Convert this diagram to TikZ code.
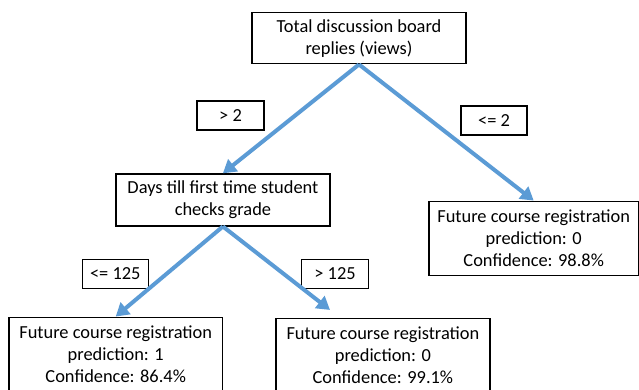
\documentclass[tikz,border=0pt]{standalone}
\usepackage{fontspec}
\setmainfont{Carlito}
\usetikzlibrary{arrows.meta,calc}
\definecolor{arrblue}{RGB}{91,155,213}
\tikzset{
  box/.style={draw=black, line width=1.5pt, inner sep=0pt, align=center,
    font=\fontsize{18.4}{22}\selectfont},
  lbl/.style={draw=black, line width=1.5pt, inner sep=0pt, align=center,
    minimum width=66pt, minimum height=29pt, font=\fontsize{18.4}{22}\selectfont},
  arr/.style={draw=arrblue, line width=4pt, -{Triangle[length=13pt,width=15pt]}},
}
\begin{document}
\begin{tikzpicture}[x=1pt,y=-1pt]
\useasboundingbox (0,0) rectangle (639,389);
\node[box, minimum width=214pt, minimum height=51pt] (top) at (359,38.2) {Total discussion board\\replies (views)};
\node[lbl, minimum width=67pt] (gt2) at (230.5,115.4) {> 2};
\node[lbl] (le2) at (494,120.5) {<= 2};
\node[box, minimum width=214pt, minimum height=51.7pt] (days) at (222.9,199.9) {Days till first time student\\checks grade};
\node[box, minimum width=209.5pt, minimum height=74.4pt] (rleaf) at (533.7,238.5) {Future course registration\\prediction: 0\\Confidence: 98.8\%};
\node[lbl] (le125) at (115.3,273.8) {<= 125};
\node[lbl, minimum width=66.6pt] (gt125) at (335,273.8) {> 125};
\node[box, minimum width=213.3pt, minimum height=74.4pt] (bl) at (115.7,354.5) {Future course registration\\prediction: 1\\Confidence: 86.4\%};
\node[box, minimum width=214.3pt, minimum height=74.4pt] (bm) at (382.9,355.5) {Future course registration\\prediction: 0\\Confidence: 99.1\%};
\coordinate (bmtip) at ($(bm.north)+(-52.9,-7.6)$);
\draw[arr] (top.south) -- (days.north);
\draw[arr] (top.south) -- (rleaf.north);
\draw[arr] (days.south) -- (bl.north);
\draw[arr] (days.south) -- (bmtip);
\end{tikzpicture}
\end{document}
